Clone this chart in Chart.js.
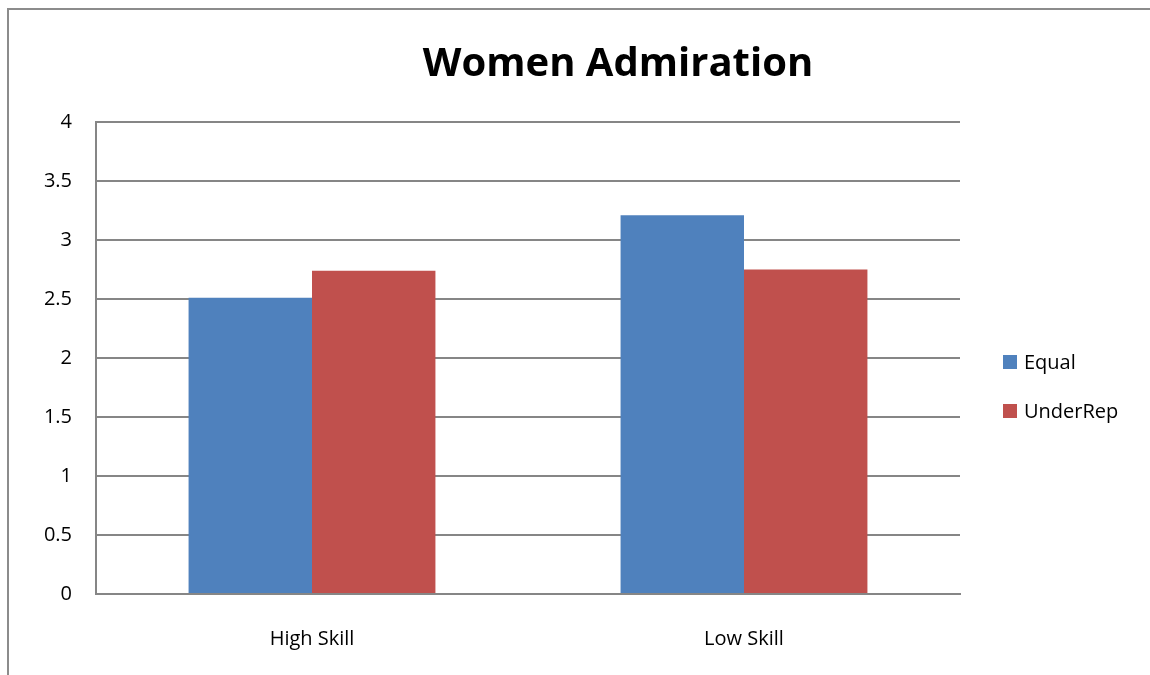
<!DOCTYPE html>
<html>
<head>
<meta charset="utf-8">
<script src="https://cdn.jsdelivr.net/npm/chart.js@4.4.1/dist/chart.umd.min.js"></script>
<style>
  html, body { margin: 0; padding: 0; background: #fff; }
  #wrap { position: relative; width: 1150px; height: 675px; overflow: hidden; }
  #frame { position: absolute; left: 7px; top: 8px; width: 1300px; height: 800px;
           border-left: 2px solid #8c8c8c; border-top: 2px solid #8c8c8c; box-sizing: border-box; }
  canvas { position: absolute; left: 0; top: 0; }
</style>
</head>
<body>
<div id="wrap">
  <div id="frame"></div>
  <canvas id="c" width="1150" height="675"></canvas>
</div>
<script>
const titleText = "Women Admiration";
const categories = ["High Skill", "Low Skill"];
const seriesNames = ["Equal", "UnderRep"];
const equalValues = [2.51, 3.21];
const underRepValues = [2.74, 2.75];
const yTicks = [0, 0.5, 1, 1.5, 2, 2.5, 3, 3.5, 4];
const yTickLabels = ["0", "0.5", "1", "1.5", "2", "2.5", "3", "3.5", "4"];
const seriesColors = ["#4F81BD", "#C0504D"];

const FONT = "'Open Sans', 'Liberation Sans', sans-serif";

const titlePlugin = {
  id: 'customTitle',
  afterDraw(chart) {
    const ctx = chart.ctx;
    ctx.save();
    ctx.font = "bold 40px " + FONT;
    ctx.fillStyle = "#000";
    ctx.textAlign = "center";
    ctx.textBaseline = "middle";
    ctx.fillText(titleText, 618, 65);
    ctx.restore();
  }
};

const legendPlugin = {
  id: 'customLegend',
  afterDraw(chart) {
    const ctx = chart.ctx;
    ctx.save();
    ctx.font = "20px " + FONT;
    ctx.textBaseline = "middle";
    ctx.textAlign = "left";
    chart.data.datasets.forEach((ds, i) => {
      const cy = 362 + i * 49;
      ctx.fillStyle = ds.backgroundColor;
      ctx.fillRect(1003, cy - 7, 14, 14);
      ctx.fillStyle = "#000";
      ctx.fillText(ds.label, 1024, cy + 1);
    });
    ctx.restore();
  }
};

new Chart(document.getElementById('c'), {
  type: 'bar',
  data: {
    labels: categories,
    datasets: [
      { label: seriesNames[0], data: equalValues, backgroundColor: seriesColors[0] },
      { label: seriesNames[1], data: underRepValues, backgroundColor: seriesColors[1] }
    ]
  },
  options: {
    responsive: false,
    animation: false,
    devicePixelRatio: 1,
    layout: { padding: { top: 122, right: 190, left: 0, bottom: 0 } },
    datasets: { bar: { categoryPercentage: 1 / 1.75, barPercentage: 1, borderWidth: 0 } },
    plugins: { legend: { display: false }, title: { display: false }, tooltip: { enabled: false } },
    scales: {
      x: {
        grid: { display: false, drawTicks: false },
        border: { display: true, color: '#868686', width: 2 },
        ticks: { color: '#000', font: { family: FONT, size: 20 }, padding: 33 },
        afterFit(scale) { scale.height = 81; }
      },
      y: {
        min: 0, max: 4,
        afterBuildTicks(scale) { scale.ticks = yTicks.map(v => ({ value: v })); },
        grid: { color: '#868686', lineWidth: 2, drawTicks: false },
        border: { display: true, color: '#868686', width: 2 },
        ticks: {
          color: '#000', font: { family: FONT, size: 20 }, padding: 24,
          callback(value) { const i = yTicks.indexOf(value); return i >= 0 ? yTickLabels[i] : String(value); }
        },
        afterFit(scale) { scale.width = 96; }
      }
    }
  },
  plugins: [titlePlugin, legendPlugin]
});
</script>
</body>
</html>
